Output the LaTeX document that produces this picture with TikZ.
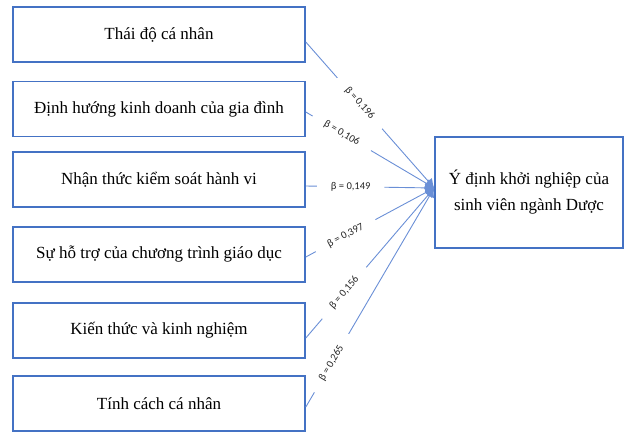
\documentclass[tikz,border=0pt]{standalone}
\usepackage{fontspec}
\setmainfont{Liberation Serif}
\newfontfamily\betafont{Carlito}
\usetikzlibrary{arrows.meta}
\definecolor{boxblue}{HTML}{4472C4}
\definecolor{linkblue}{HTML}{6A8FD6}
\begin{document}
\begin{tikzpicture}[x=1pt, y=-1pt,
  factor/.style={draw=boxblue, line width=1.6pt, minimum width=292pt, minimum height=55pt, inner sep=0pt, font=\fontsize{17}{20}\selectfont},
  goal/.style={draw=boxblue, line width=1.6pt, minimum width=188pt, minimum height=111pt, align=center, font=\fontsize{17}{26}\selectfont},
  link/.style={draw=linkblue, line width=0.9pt, -{Latex[length=9pt,width=10pt]}},
  beta/.style={sloped, fill=white, inner xsep=14pt, inner ysep=1pt, text=black!85, font=\betafont\fontsize{10.5}{12}\selectfont}]
  \useasboundingbox (0,0) rectangle (624,432);
  % factors
  \node [factor] (f1) at (159,34.5) {Thái độ cá nhân};
  \node [factor] (f2) at (159,109) {Định hướng kinh doanh của gia đình};
  \node [factor] (f3) at (159,179.5) {Nhận thức kiểm soát hành vi};
  \node [factor] (f4) at (159,254.5) {Sự hỗ trợ của chương trình giáo dục};
  \node [factor] (f5) at (159,330.5) {Kiến thức và kinh nghiệm};
  \node [factor] (f6) at (159,403.5) {Tính cách cá nhân};
  % outcome
  \node [goal] (g) at (529,192.5) {Ý định khởi nghiệp của\\sinh viên ngành Dược};
  % paths
  \draw [link] ([yshift=-7.5pt]f1.east) -- node [beta,pos=.42] {β = 0,196} ([yshift=4.5pt]g.west);
  \draw [link] ([yshift=-3pt]f2.east) -- node [beta,pos=.28] {β = 0,106} ([yshift=4.5pt]g.west);
  \draw [link] ([yshift=-6.5pt]f3.east) -- node [beta,pos=.35] {β = 0,149} ([yshift=4.5pt]g.west);
  \draw [link] ([yshift=-2.5pt]f4.east) -- node [beta,pos=.31] {β = 0,397} ([yshift=4.5pt]g.west);
  \draw [link] ([yshift=-7.5pt]f5.east) -- node [beta,pos=.3] {β = 0,156} ([yshift=4.5pt]g.west);
  \draw [link] ([yshift=-3.5pt]f6.east) -- node [beta,pos=.2] {β = 0,265} ([yshift=4.5pt]g.west);
\end{tikzpicture}
\end{document}
